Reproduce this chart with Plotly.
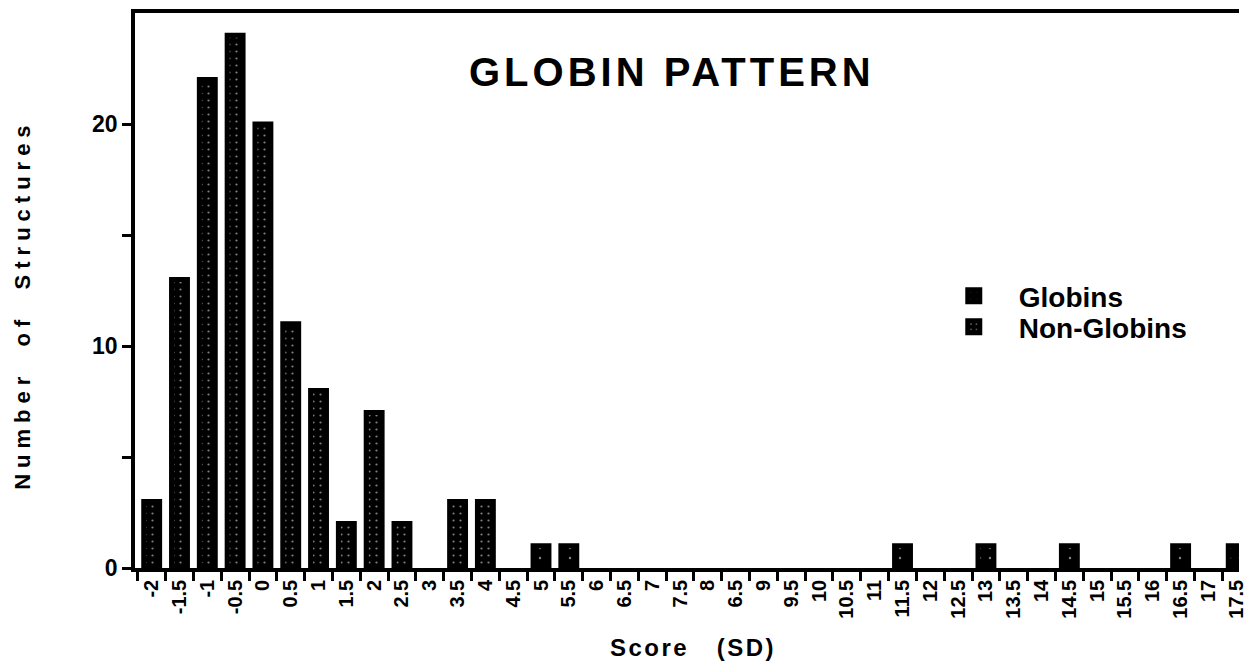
import plotly.graph_objects as go

# Category labels as printed (note the original's duplicated "6.5" in place of 8.5)
score_labels = ["-2", "-1.5", "-1", "-0.5", "0", "0.5", "1", "1.5", "2", "2.5",
                "3", "3.5", "4", "4.5", "5", "5.5", "6", "6.5", "7", "7.5",
                "8", "6.5", "9", "9.5", "10", "10.5", "11", "11.5", "12", "12.5",
                "13", "13.5", "14", "14.5", "15", "15.5", "16", "16.5", "17", "17.5"]

non_globins = [3, 13, 22, 24, 20, 11, 8, 2, 7, 2,
               0, 3, 3, 0, 0, 0, 0, 0, 0, 0,
               0, 0, 0, 0, 0, 0, 0, 0, 0, 0,
               0, 0, 0, 0, 0, 0, 0, 0, 0, 0]

globins = [0, 0, 0, 0, 0, 0, 0, 0, 0, 0,
           0, 0, 0, 0, 1, 1, 0, 0, 0, 0,
           0, 0, 0, 0, 0, 0, 0, 1, 0, 0,
           1, 0, 0, 1, 0, 0, 0, 1, 0, 1]

bin_start = -2.0
bin_step = 0.5
xpos = [bin_start + bin_step * i for i in range(len(score_labels))]

FONT = "Liberation Sans, Arial, Helvetica, sans-serif"
OUTLINE = 5
BAR_W = 0.375 - OUTLINE / 56.0


def nz(vals):
    return [v if v else None for v in vals]


fig = go.Figure()
fig.add_trace(go.Bar(
    x=xpos, y=nz(globins), name="Globins", width=BAR_W, legend="legend",
    marker=dict(color="black", line=dict(width=OUTLINE, color="black"),
                pattern=dict(shape=".", bgcolor="black", fgcolor="white",
                             size=10, solidity=0.05)),
))
fig.add_trace(go.Bar(
    x=xpos, y=nz(non_globins), name="Non-Globins", width=BAR_W, legend="legend2",
    marker=dict(color="black", line=dict(width=OUTLINE, color="black"),
                pattern=dict(shape=".", bgcolor="black", fgcolor="white",
                             size=7, solidity=0.08)),
))

legend_common = dict(xanchor="left", yanchor="middle",
                     font=dict(family=FONT, size=28, weight=700, color="black"),
                     itemwidth=80, bgcolor="rgba(0,0,0,0)", borderwidth=0)

fig.update_layout(
    width=1247, height=667,
    margin=dict(l=135, r=0, t=13, b=99),
    paper_bgcolor="white", plot_bgcolor="white",
    barmode="overlay",
    font=dict(family=FONT, color="black", size=20),
    showlegend=True,
    legend=dict(x=0.719, y=0.490, **legend_common),
    legend2=dict(x=0.719, y=0.434, **legend_common),
    xaxis=dict(
        range=[-2.30, 17.55],
        tickmode="array", tickvals=xpos, ticktext=score_labels,
        tickangle=-90, ticks="", ticklen=0,
        ticklabeloverflow="allow",
        tickfont=dict(family=FONT, size=20, weight=700, color="black"),
        showline=True, linecolor="black", linewidth=3.5, mirror=True,
        showgrid=False, zeroline=False,
        minor=dict(tickmode="linear", tick0=bin_start - bin_step / 2, dtick=bin_step,
                   ticks="outside", ticklen=9, tickwidth=3, tickcolor="black",
                   showgrid=False),
    ),
    yaxis=dict(
        range=[0, 25],
        tickmode="array", tickvals=[0, 5, 10, 15, 20], ticktext=["0", "", "10", "", "20"],
        ticks="outside", ticklen=9, tickwidth=3, tickcolor="black",
        tickfont=dict(family=FONT, size=23, weight=700, color="black"),
        showline=True, linecolor="black", linewidth=3.5, mirror=False,
        showgrid=False, zeroline=False,
    ),
    annotations=[
        dict(text='<span style="letter-spacing:4px">GLOBIN PATTERN</span>',
             xref="paper", yref="paper", x=0.486, y=0.894,
             xanchor="center", yanchor="middle", showarrow=False,
             font=dict(family=FONT, size=40, weight=700, color="black")),
        dict(text='<span style="letter-spacing:2.5px">Score\u00a0\u00a0\u00a0(SD)</span>',
             xref="paper", yref="paper", x=0.505, y=-0.144,
             xanchor="center", yanchor="middle", showarrow=False,
             font=dict(family=FONT, size=24, weight=700, color="black")),
        dict(text='<span style="letter-spacing:6px">Number\u00a0\u00a0of\u00a0\u00a0Structures</span>',
             xref="paper", yref="paper", x=-0.1016, y=0.474,
             xanchor="center", yanchor="middle", showarrow=False, textangle=-90,
             font=dict(family=FONT, size=22, weight=700, color="black")),
    ],
)

fig.write_html("out.html", config={"displayModeBar": False},
               post_script="document.body.style.margin='0px';")
